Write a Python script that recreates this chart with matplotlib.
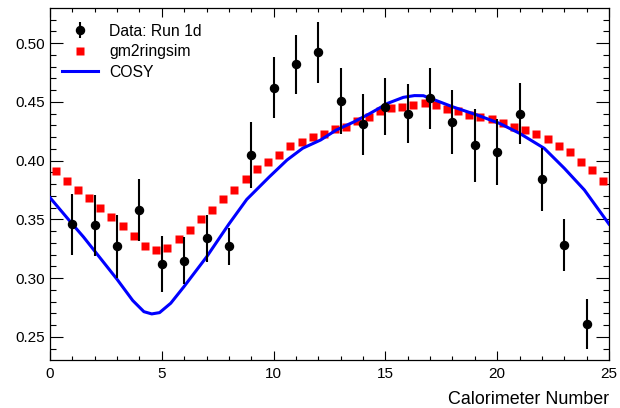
import numpy as np
import matplotlib.pyplot as plt
from matplotlib.ticker import MultipleLocator

plt.rcParams['font.family'] = ['Liberation Sans', 'DejaVu Sans']

# Data: Run 1d (calorimeter 1..24)
calo = list(range(1, 25))
data_y = [0.346, 0.345, 0.327, 0.358, 0.312, 0.315, 0.334, 0.327,
          0.405, 0.462, 0.482, 0.492, 0.451, 0.431, 0.446, 0.440,
          0.453, 0.433, 0.413, 0.407, 0.440, 0.384, 0.328, 0.261]
data_err = [0.026, 0.026, 0.027, 0.026, 0.024, 0.020, 0.020, 0.016,
            0.028, 0.026, 0.025, 0.026, 0.028, 0.026, 0.024, 0.025,
            0.026, 0.027, 0.031, 0.028, 0.026, 0.027, 0.022, 0.021]

# gm2ringsim (50 bins over 0..25)
sim_x = [0.25 + 0.5 * i for i in range(50)]
sim_y = [0.391, 0.383, 0.375, 0.368, 0.360, 0.352, 0.344, 0.336, 0.327, 0.324,
         0.326, 0.333, 0.341, 0.350, 0.358, 0.367, 0.375, 0.384, 0.393, 0.399,
         0.405, 0.412, 0.416, 0.420, 0.423, 0.427, 0.429, 0.434, 0.437, 0.442,
         0.445, 0.446, 0.447, 0.449, 0.447, 0.444, 0.442, 0.439, 0.437, 0.435,
         0.432, 0.429, 0.426, 0.423, 0.418, 0.412, 0.407, 0.399, 0.392, 0.383]

# COSY curve
cosy_x = [0.0, 1.0, 1.5, 2.0, 3.0, 3.7, 4.2, 4.55, 4.9, 5.4, 6.0, 7.0, 8.0,
          8.8, 9.8, 10.6, 11.3, 12.1, 12.8, 13.6, 14.3, 15.1, 15.8, 16.3,
          16.7, 17.3, 18.0, 19.1, 20.1, 21.0, 22.1, 23.0, 23.9, 25.0]
cosy_y = [0.3685, 0.346, 0.335, 0.323, 0.299, 0.281, 0.2715, 0.2696, 0.2707,
          0.2787, 0.293, 0.318, 0.346, 0.367, 0.386, 0.4005, 0.4105, 0.4175,
          0.426, 0.433, 0.440, 0.4487, 0.4538, 0.4553, 0.4552, 0.4509, 0.4458,
          0.4388, 0.4317, 0.4232, 0.4105, 0.3935, 0.375, 0.346]

fig = plt.figure(figsize=(6.2, 4.08), dpi=100)
ax = fig.add_axes([50 / 620, 1 - 360 / 408, 559 / 620, 352 / 408])

ax.plot(sim_x, sim_y, 's', color='#ff0000', ms=6.0, mec='none',
        label='gm2ringsim', zorder=2)
ax.plot(cosy_x, cosy_y, '-', color='#0000ff', lw=2.2, label='COSY', zorder=3)
ax.errorbar(calo, data_y, yerr=data_err, fmt='o', color='black', ms=5.8,
            elinewidth=1.5, capsize=0, label='Data: Run 1d', zorder=4)

ax.set_xlim(0, 25)
ax.set_ylim(0.2304, 0.5298)
ax.xaxis.set_major_locator(MultipleLocator(5))
ax.xaxis.set_minor_locator(MultipleLocator(1))
ax.yaxis.set_major_locator(MultipleLocator(0.05))
ax.yaxis.set_minor_locator(MultipleLocator(0.01))
ax.yaxis.set_major_formatter(plt.FormatStrFormatter('%.2f'))
ax.tick_params(which='both', direction='in', top=True, right=True,
               labelsize=11, width=0.8)
ax.tick_params(axis='y', which='major', length=9.2, pad=3.6)
ax.tick_params(axis='y', which='minor', length=4.5)
ax.tick_params(axis='x', which='major', length=6.2, pad=5)
ax.tick_params(axis='x', which='minor', length=3.1)
for s in ax.spines.values():
    s.set_linewidth(0.9)

fig.text(609 / 620, 1 - 399 / 408, 'Calorimeter Number', ha='right',
         va='center', fontsize=12.9)

h, l = ax.get_legend_handles_labels()
order = [2, 0, 1]
ax.legend([h[i] for i in order], [l[i] for i in order], loc='upper left',
          frameon=False, fontsize=11.3, handlelength=2.25, handletextpad=0.74,
          labelspacing=0.34, borderpad=0, borderaxespad=0,
          bbox_to_anchor=(0.022, 0.955))

fig.savefig('out.png', dpi=100)
